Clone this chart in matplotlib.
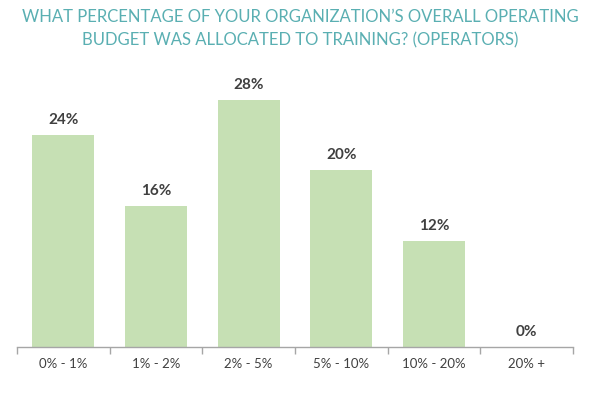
import matplotlib
matplotlib.use("Agg")
import matplotlib.pyplot as plt
import numpy as np

categories = ["0% - 1%", "1% - 2%", "2% - 5%", "5% - 10%", "10% - 20%", "20% +"]
values = [24, 16, 28, 20, 12, 0]
title = "WHAT PERCENTAGE OF YOUR ORGANIZATION\u2019S OVERALL OPERATING\nBUDGET WAS ALLOCATED TO TRAINING? (OPERATORS)"

plt.rcParams['font.family'] = ['Lato', 'DejaVu Sans']

fig = plt.figure(figsize=(6, 3.93), dpi=100)
ax = fig.add_axes([17/600, 46/393, 556/600, (347-60)/393])

x = np.arange(len(categories))
ax.bar(x, values, width=0.67, color="#c6e0b4")
for xi, v in zip(x, values):
    ax.text(xi, v + 0.9, f"{v}%", ha="center", va="bottom", fontsize=11,
            fontweight="bold", color="#404040")

ax.set_xlim(-0.5, len(categories) - 0.5)
ax.set_ylim(0, (347-60)/8.83)
ax.set_yticks([])
for s in ["top", "right", "left"]:
    ax.spines[s].set_visible(False)
ax.spines["bottom"].set_color("#a6a6a6")
ax.spines["bottom"].set_linewidth(1)

ax.set_xticks(x)
ax.set_xticklabels(categories, fontsize=9.5, color="#404040")
ax.tick_params(axis="x", length=0, pad=8)
ax.set_xticks(np.arange(-0.5, len(categories)), minor=True)
ax.tick_params(axis="x", which="minor", length=5, color="#a6a6a6", width=1)

fig.text(0.5, 1 - 9/393, title, ha="center", va="top", fontsize=12,
         color="#5aafb2", linespacing=1.55)

fig.savefig("out.png", dpi=100)
